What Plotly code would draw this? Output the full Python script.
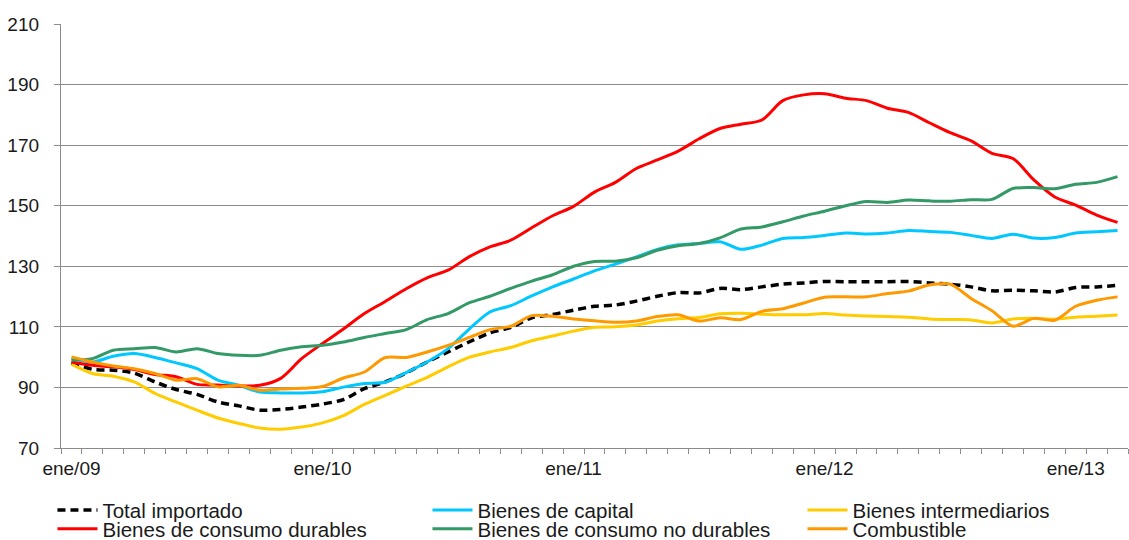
import plotly.graph_objects as go

MESES = ["ene", "feb", "mar", "abr", "may", "jun", "jul", "ago", "sep", "oct", "nov", "dic"]
ANIOS = ["09", "10", "11", "12", "13"]
N_MESES = 51  # ene/09 .. mar/13

categorias = [f"{m}/{a}" for a in ANIOS for m in MESES][:N_MESES]
etiquetas_eje = ["ene/09", "ene/10", "ene/11", "ene/12", "ene/13"]

total_importado = [98.1, 96.0, 95.7, 94.7, 91.8, 89.3, 87.7, 85.2, 83.9, 82.5, 82.7, 83.5,
                   84.5, 86.0, 89.6, 91.8, 94.8, 98.4, 101.7, 105.0, 108.0, 109.8, 113.0, 114.1,
                   115.5, 116.8, 117.2, 118.5, 120.1, 121.3, 121.2, 122.7, 122.3, 123.2, 124.1, 124.5,
                   125.0, 124.9, 124.9, 124.9, 125.0, 124.5, 124.1, 123.2, 121.9, 122.1, 121.9, 121.5,
                   123.0, 123.2, 123.7]

bienes_capital = [99.5, 98.4, 100.3, 101.2, 99.9, 98.1, 96.2, 92.4, 90.7, 88.5, 88.2, 88.2,
                  88.6, 90.1, 91.3, 91.7, 94.9, 98.4, 102.8, 109.2, 114.9, 117.0, 120.2, 123.2,
                  125.8, 128.5, 130.7, 133.1, 135.6, 137.1, 137.5, 138.1, 135.6, 137.0, 139.2, 139.5,
                  140.2, 141.0, 140.7, 141.0, 141.8, 141.5, 141.2, 140.2, 139.2, 140.6, 139.3, 139.5,
                  141.0, 141.4, 141.8]

bienes_intermediarios = [97.7, 94.6, 93.7, 91.8, 88.0, 85.2, 82.5, 79.9, 78.1, 76.6, 76.2, 76.9,
                         78.3, 80.7, 84.4, 87.4, 90.4, 93.3, 96.8, 99.9, 101.7, 103.2, 105.4, 107.0,
                         108.6, 109.9, 110.0, 110.6, 111.9, 112.7, 113.1, 114.3, 114.5, 114.2, 114.0, 114.0,
                         114.4, 113.9, 113.6, 113.4, 113.2, 112.6, 112.4, 112.3, 111.3, 112.6, 112.8, 112.5,
                         113.2, 113.5, 113.9]

consumo_durables = [98.4, 97.3, 96.8, 95.9, 94.3, 93.5, 91.0, 90.8, 90.5, 90.7, 93.0, 99.5,
                    104.5, 109.3, 114.4, 118.4, 122.6, 126.2, 128.7, 133.1, 136.4, 138.6, 142.7, 146.7,
                    149.8, 154.5, 157.7, 162.3, 165.1, 168.0, 172.1, 175.5, 176.9, 178.3, 184.7, 186.6,
                    187.0, 185.5, 184.7, 182.2, 180.8, 177.4, 174.1, 171.4, 167.3, 165.6, 158.5, 152.9,
                    150.2, 146.9, 144.5]

consumo_no_durables = [99.0, 99.5, 102.3, 102.8, 103.2, 101.7, 102.8, 101.2, 100.6, 100.6, 102.3, 103.4,
                       103.9, 105.0, 106.5, 107.8, 109.1, 112.4, 114.4, 117.9, 120.1, 122.7, 125.1, 127.2,
                       130.0, 131.6, 131.7, 132.8, 135.3, 136.8, 137.5, 139.4, 142.3, 143.0, 144.7, 146.6,
                       148.2, 150.0, 151.4, 151.1, 151.9, 151.6, 151.5, 152.0, 152.1, 155.7, 156.0, 155.6,
                       157.1, 157.7, 159.6]

combustible = [100.1, 98.4, 97.1, 96.2, 94.6, 92.4, 92.9, 90.2, 90.7, 89.1, 89.5, 89.7,
               90.3, 93.1, 95.1, 99.9, 99.9, 101.7, 103.9, 106.5, 109.1, 110.2, 113.7, 113.5,
               112.6, 112.0, 111.5, 111.9, 113.4, 114.0, 111.9, 113.0, 112.4, 115.1, 116.0, 117.9,
               119.8, 119.9, 119.9, 121.0, 121.8, 123.8, 124.1, 119.4, 115.3, 110.2, 112.8, 112.2,
               116.8, 118.8, 119.9]

x = list(range(len(categorias)))
tick_pos = [categorias.index(e) for e in etiquetas_eje]

FONT = "Liberation Sans, Arial, sans-serif"
GRID = "#8C8C8C"

# (name, values, line style, legend row)
series = [
    ("Total importado", total_importado, dict(color="#000000", width=3.5, dash="8px,5px"), "legend"),
    ("Bienes de capital", bienes_capital, dict(color="#00C8FF", width=3), "legend"),
    ("Bienes intermediarios", bienes_intermediarios, dict(color="#FFCC00", width=3), "legend"),
    ("Bienes de consumo durables", consumo_durables, dict(color="#FF0000", width=3), "legend2"),
    ("Bienes de consumo no durables", consumo_no_durables, dict(color="#339966", width=3), "legend2"),
    ("Combustible", combustible, dict(color="#FF9900", width=3), "legend2"),
]

fig = go.Figure()
for name, vals, line, leg in series:
    fig.add_trace(go.Scatter(
        x=x, y=vals, name=name, mode="lines", legend=leg,
        line=dict(shape="spline", smoothing=0.8, **line),
        customdata=categorias,
        hovertemplate="%{customdata}: %{y}<extra>" + name + "</extra>",
    ))

legend_common = dict(
    orientation="h", x=-0.008, xanchor="left", yanchor="top",
    entrywidth=320, entrywidthmode="pixels", itemwidth=40,
    font=dict(size=20.5), bgcolor="rgba(0,0,0,0)",
)

fig.update_layout(
    width=1129, height=540,
    paper_bgcolor="white", plot_bgcolor="white",
    font=dict(family=FONT, size=19, color="#1A1A1A"),
    margin=dict(l=61, r=1, t=24, b=92, autoexpand=False),
    xaxis=dict(
        range=[-0.5, len(categorias) - 0.5],
        tickvals=tick_pos, ticktext=etiquetas_eje,
        ticks="", showgrid=False, zeroline=False,
        showline=True, linecolor=GRID, linewidth=1.3,
        ticklabelstandoff=3,
        minor=dict(ticks="outside", tick0=-0.5, dtick=1, ticklen=5, tickcolor=GRID, showgrid=False),
    ),
    yaxis=dict(
        range=[70, 210], tick0=70, dtick=20,
        showgrid=True, gridcolor=GRID, gridwidth=1.3, zeroline=False,
        showline=True, linecolor=GRID, linewidth=1.3,
        ticks="outside", ticklen=6, tickcolor=GRID,
        ticklabelstandoff=11,
    ),
    legend=dict(y=-0.0993, **legend_common),
    legend2=dict(y=-0.1436, **legend_common),
)

# the page body has a default 8px margin; remove it so the figure fills the window
fig.write_html(
    "out.html",
    config={"displayModeBar": False},
    post_script="document.body.style.margin='0';",
)
